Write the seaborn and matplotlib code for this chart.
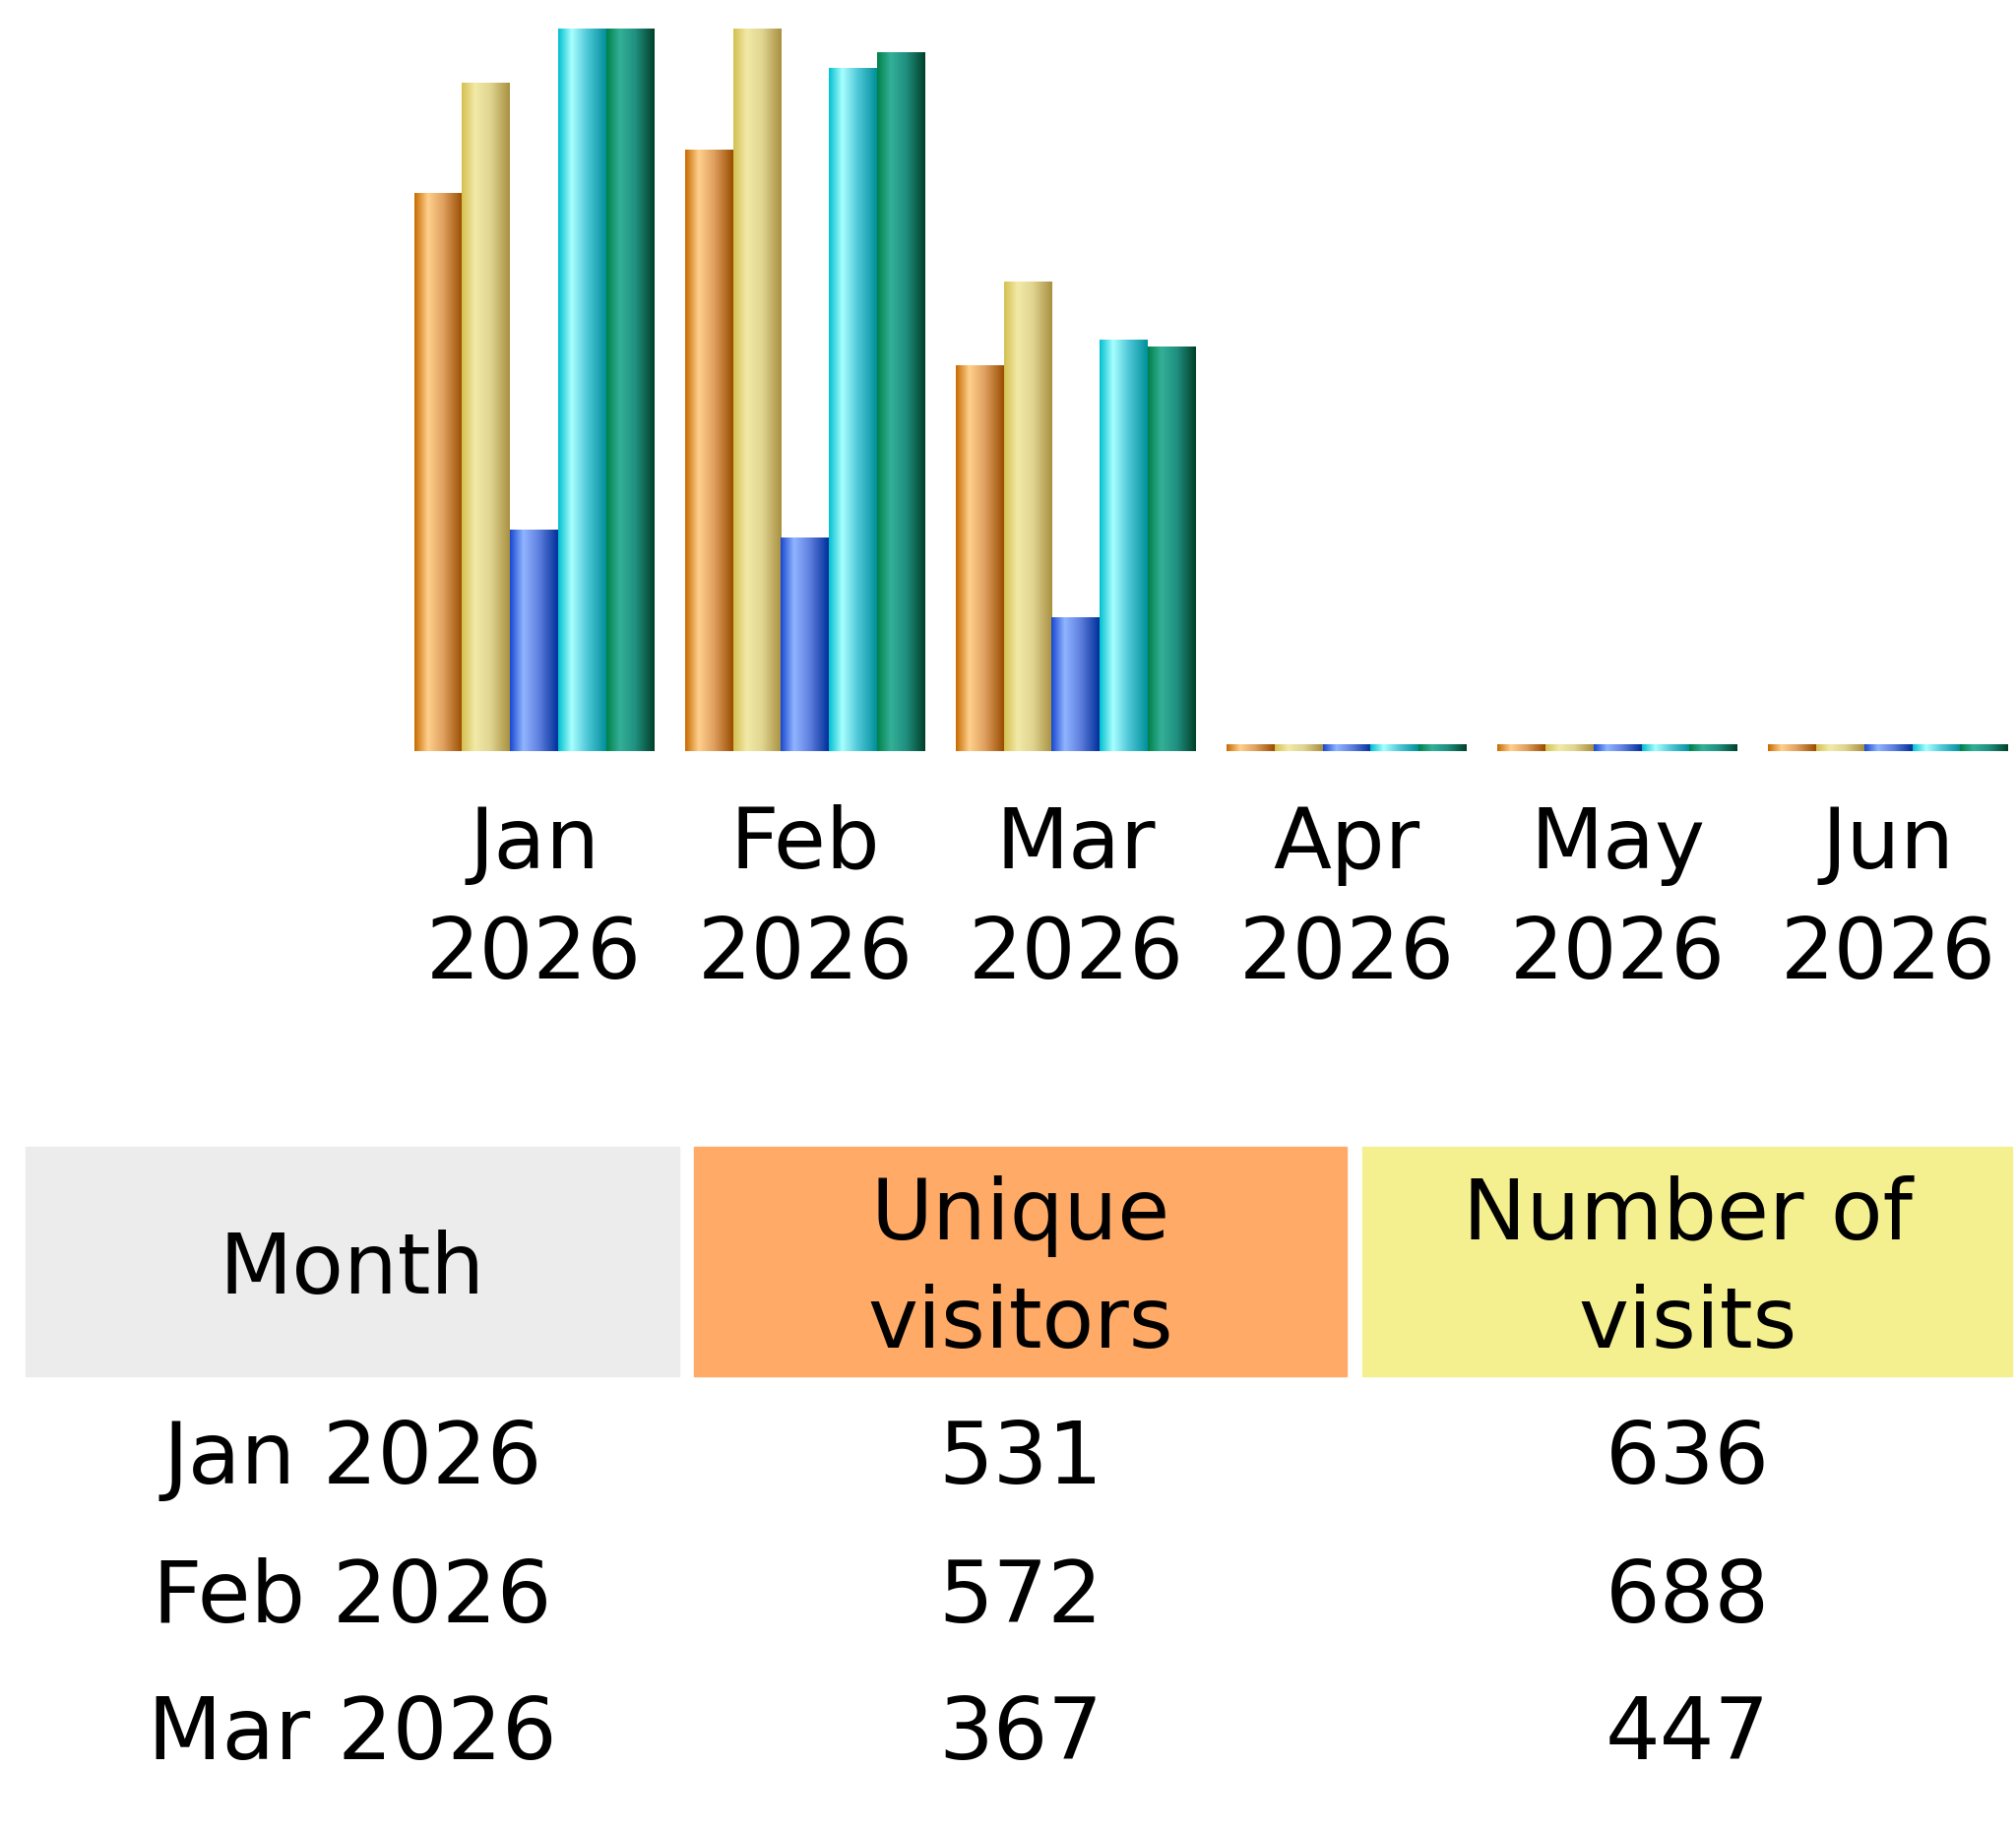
import numpy as np
import pandas as pd
import matplotlib
matplotlib.use("Agg")
import matplotlib.pyplot as plt
from matplotlib.colors import LinearSegmentedColormap
from matplotlib.patches import Rectangle
import seaborn as sns

sns.set_theme(style="white")
plt.rcParams["font.family"] = ["DejaVu Sans"]
plt.rcParams["text.color"] = "black"
plt.rcParams["xtick.color"] = "black"

MONTHS = ["Jan", "Feb", "Mar", "Apr", "May", "Jun"]
YEAR = "2026"
unique_visitors = [531, 572, 367, 0, 0, 0]
visits = [636, 688, 447, 0, 0, 0]
pages = [1809, 1744, 1094, 0, 0, 0]
hits = [5912, 5587, 3364, 0, 0, 0]
bandwidth = [312.4, 301.8, 174.6, 0, 0, 0]  # estimated, MB

SERIES = ["Unique visitors", "Number of visits", "Pages", "Hits", "Bandwidth"]
TABLE_MONTHS = ["Jan 2026", "Feb 2026", "Mar 2026"]

# awstats style: u/v scaled by max visits, p/h by max hits, bandwidth alone
vmax = max(visits)
hmax = max(hits)
bmax = max(bandwidth)
scaled = {
    "Unique visitors": np.array(unique_visitors) / vmax,
    "Number of visits": np.array(visits) / vmax,
    "Pages": np.array(pages) / hmax,
    "Hits": np.array(hits) / hmax,
    "Bandwidth": np.array(bandwidth) / bmax,
}
MIN_H = 0.009  # zero months still show a thin strip

rows = []
for s in SERIES:
    for m, v in zip(MONTHS, scaled[s]):
        rows.append({"month": m, "series": s, "h": max(v, MIN_H)})
df = pd.DataFrame(rows)

grads = {
    "Unique visitors": ["#c86a00", "#ffd08c", "#e0a060", "#9a4c00"],
    "Number of visits": ["#d4c050", "#f2eaa8", "#e0d490", "#a89040"],
    "Pages": ["#1848d0", "#90b4ff", "#6080e0", "#00309a"],
    "Hits": ["#00c0d0", "#a8ffff", "#50c8d8", "#00909a"],
    "Bandwidth": ["#008048", "#34b098", "#209080", "#004028"],
}
base = {"Unique visitors": "#FFAA66", "Number of visits": "#F4F090",
        "Pages": "#4477DD", "Hits": "#66DDEE", "Bandwidth": "#2EA495"}

W, H = 2048, 1860
fig = plt.figure(figsize=(W / 100, H / 100), dpi=100)
ax = fig.add_axes([0.1978, 0.5899, 0.806, 0.3947])

sns.barplot(data=df, x="month", y="h", hue="series", hue_order=SERIES,
            order=MONTHS, palette=base, width=0.887, ax=ax, legend=False,
            saturation=1, linewidth=0)

grad = np.linspace(0, 1, 256).reshape(1, -1)
for s, cont in zip(SERIES, ax.containers):
    cmap = LinearSegmentedColormap.from_list(s, list(zip([0, 0.28, 0.6, 1.0], grads[s])))
    for p in cont.patches:
        x0, w, hh = p.get_x(), p.get_width(), p.get_height()
        ax.imshow(grad, cmap=cmap, extent=[x0, x0 + w, 0, hh], aspect="auto",
                  interpolation="bilinear", zorder=3)
        p.set_visible(False)

ax.set_xlim(-0.5, 5.5)
ax.set_ylim(0, 1)
ax.set_xticks(range(len(MONTHS)))
ax.set_xticklabels([f"{m}\n{YEAR}" for m in MONTHS], fontsize=62, linespacing=1.45)
ax.tick_params(axis="x", length=0, pad=39)
ax.set_yticks([])
ax.set_xlabel("")
ax.set_ylabel("")
for sp in ax.spines.values():
    sp.set_visible(False)

# table below
fx = lambda px: px / 1568
fy = lambda py: 1 - py / 1424
cells = [(20, 528, "#ECECEC", "Month"),
         (540, 1047, "#FFAA66", "Unique\nvisitors"),
         (1060, 1565, "#F4F090", "Number of\nvisits")]
top, bot = 892, 1070
for x0, x1, col, lab in cells:
    fig.patches.append(Rectangle((fx(x0), fy(bot)), fx(x1) - fx(x0), fy(top) - fy(bot),
                                 transform=fig.transFigure, color=col, zorder=0))
    fig.text(fx((x0 + x1) / 2), fy((top + bot) / 2 + 7), lab, ha="center", va="center",
             fontsize=62, linespacing=1.42)

row_y = [1135, 1243, 1350]
for i, m in enumerate(TABLE_MONTHS):
    vals = [m, str(unique_visitors[i]), str(visits[i])]
    for (x0, x1, _, _), v in zip(cells, vals):
        fig.text(fx((x0 + x1) / 2), fy(row_y[i]), v, ha="center", va="center", fontsize=63)

fig.savefig("out.png", dpi=100)
